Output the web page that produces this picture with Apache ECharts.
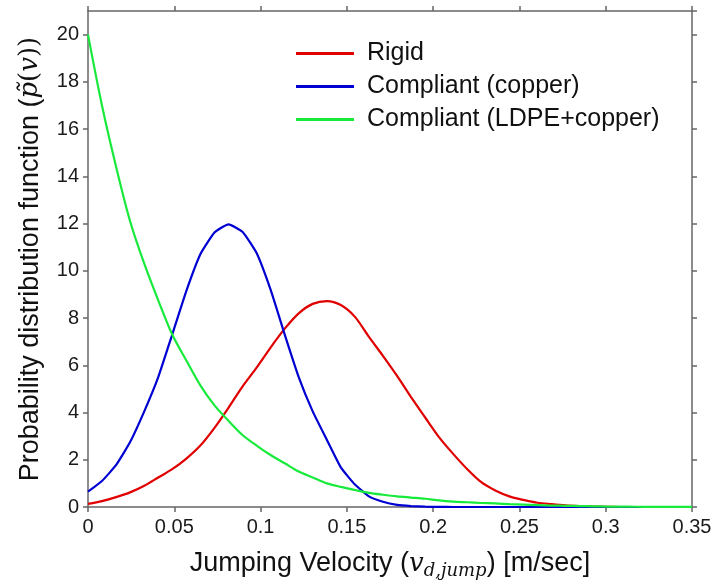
<!DOCTYPE html>
<html>
<head>
<meta charset="utf-8">
<script src="https://cdn.jsdelivr.net/npm/echarts@6/dist/echarts.min.js"></script>
<style>
  html, body { margin: 0; padding: 0; background: #fff; }
  #main { width: 715px; height: 587px; }
</style>
</head>
<body>
<div id="main"></div>
<script>
// jumping velocity samples [m/sec]
var velocity = [0, 0.0081, 0.0163, 0.0244, 0.0326, 0.0407, 0.0488, 0.0570, 0.0651, 0.0733,
    0.0814, 0.0895, 0.0977, 0.1058, 0.1140, 0.1221, 0.1302, 0.1384, 0.1465, 0.1547,
    0.1628, 0.1709, 0.1791, 0.1872, 0.1953, 0.2035, 0.2116, 0.2198, 0.2279, 0.2360,
    0.2442, 0.2523, 0.2605, 0.2686, 0.2767, 0.2849, 0.2930, 0.3012, 0.3093, 0.3174,
    0.3256, 0.3337, 0.3419, 0.35];

var rigid = [0.13, 0.25, 0.42, 0.62, 0.90, 1.25, 1.6, 2.05, 2.6, 3.35,
    4.2, 5.1, 5.9, 6.75, 7.55, 8.2, 8.6, 8.72, 8.55, 8.05,
    7.2, 6.4, 5.55, 4.65, 3.8, 2.95, 2.25, 1.6, 1.05, 0.7,
    0.45, 0.3, 0.18, 0.12, 0.07, 0.04, 0.02, 0.01, 0, 0,
    0, 0, 0, 0];

var copper = [0.65, 1.10, 1.78, 2.75, 4.05, 5.5, 7.3, 9.15, 10.7, 11.62,
    11.97, 11.65, 10.75, 9.2, 7.3, 5.5, 4.05, 2.85, 1.68, 0.95,
    0.45, 0.22, 0.09, 0.04, 0.015, 0.005, 0, 0, 0, 0,
    0, 0, 0, 0, 0, 0, 0, 0, 0, 0,
    0, 0, 0, 0];

var ldpeCopper = [20.0, 17.0, 14.4, 12.1, 10.3, 8.75, 7.3, 6.2, 5.15, 4.3,
    3.65, 3.05, 2.6, 2.2, 1.85, 1.5, 1.25, 1.0, 0.85, 0.72,
    0.6, 0.52, 0.45, 0.4, 0.35, 0.28, 0.23, 0.2, 0.17, 0.15,
    0.12, 0.1, 0.08, 0.06, 0.05, 0.04, 0.03, 0.02, 0.015, 0.01,
    0.008, 0.006, 0.004, 0.003];

var seriesNames = ['Rigid', 'Compliant (copper)', 'Compliant (LDPE+copper)'];
var seriesColors = ['#e00000', '#0000d2', '#18ea3c'];
var seriesSmooth = [0.3, 0.15, 0.3];

function pairs(ys) {
    return velocity.map(function (v, i) { return [v, ys[i]]; });
}

var myChart = echarts.init(document.getElementById('main'));

var axisColor = '#666666';
var font = 'Liberation Sans, Arial, sans-serif';
var mathStyle = { fontFamily: 'DejaVu Serif', fontStyle: 'italic', fontSize: 26, color: '#111' };

function frameX(pos, showLabel) {
    return {
        type: 'value', position: pos, min: 0, max: 0.35, interval: 0.05,
        axisLine: { show: true, onZero: false, lineStyle: { color: axisColor, width: 1.5 } },
        axisTick: { show: true, inside: false, length: 5, lineStyle: { color: axisColor, width: 1.5 } },
        axisLabel: { show: showLabel, fontSize: 20, color: '#1a1a1a', fontFamily: font, margin: 10 },
        splitLine: { show: false }
    };
}
function frameY(pos, showLabel) {
    return {
        type: 'value', position: pos, min: 0, max: 21, interval: 2,
        axisLine: { show: true, onZero: false, lineStyle: { color: axisColor, width: 1.5 } },
        axisTick: { show: true, inside: false, length: 5, lineStyle: { color: axisColor, width: 1.5 } },
        axisLabel: { show: showLabel, fontSize: 20, color: '#1a1a1a', fontFamily: font, margin: 9,
            showMaxLabel: false },
        splitLine: { show: false }
    };
}

var xBottom = frameX('bottom', true);
xBottom.name = '{n|Jumping Velocity (}{m|v}{sub|d,jump}{n|) [m/sec]}';
xBottom.nameLocation = 'middle';
xBottom.nameGap = 41;
xBottom.nameTextStyle = {
    rich: {
        n: { fontFamily: font, fontSize: 27, color: '#111' },
        m: mathStyle,
        sub: { fontFamily: 'DejaVu Serif', fontStyle: 'italic', fontSize: 18, color: '#111', padding: [14, 0, 0, 0] }
    }
};

var yLeft = frameY('left', true);
yLeft.name = '{n|Probability distribution function (}{m|p̃}{r|(}{m|v}{r|))}';
yLeft.nameLocation = 'middle';
yLeft.nameGap = 44;
yLeft.nameTextStyle = {
    rich: {
        n: { fontFamily: font, fontSize: 27, color: '#111' },
        m: mathStyle,
        r: { fontFamily: 'DejaVu Serif', fontSize: 26, color: '#111' }
    }
};

var option = {
    backgroundColor: '#fff',
    animation: false,
    grid: { left: 88, right: 23, top: 11, bottom: 80, containLabel: false },
    legend: {
        orient: 'vertical',
        left: 296,
        top: 41,
        padding: 0,
        itemWidth: 58,
        itemHeight: 3,
        itemGap: 8,
        icon: 'rect',
        data: seriesNames,
        textStyle: { fontSize: 25, fontFamily: font, color: '#111', lineHeight: 25, padding: [0, 0, 0, 8] }
    },
    xAxis: [xBottom, frameX('top', false)],
    yAxis: [yLeft, frameY('right', false)],
    series: seriesNames.map(function (name, i) {
        return {
            name: name,
            type: 'line',
            xAxisIndex: 0,
            yAxisIndex: 0,
            showSymbol: false,
            symbol: 'none',
            smooth: seriesSmooth[i],
            color: seriesColors[i],
            lineStyle: { width: 2.2, color: seriesColors[i] },
            data: pairs([rigid, copper, ldpeCopper][i])
        };
    })
};

myChart.setOption(option);
</script>
</body>
</html>
